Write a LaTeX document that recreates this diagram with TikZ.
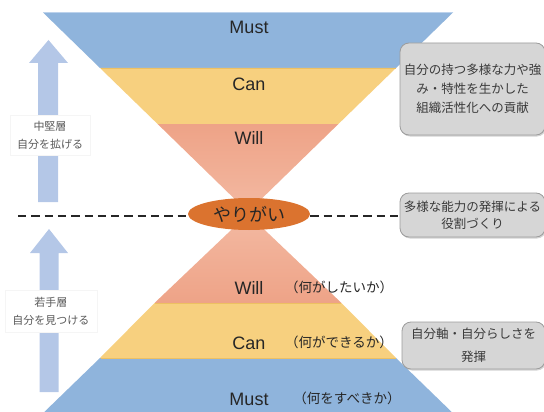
\documentclass[tikz,border=0pt]{standalone}
\usepackage{fontspec}
\setmainfont{Liberation Sans}
\newfontfamily\jp{Noto Sans CJK JP}
\usetikzlibrary{shapes.geometric,shadows}
\definecolor{mblue}{HTML}{8FB4DC}
\definecolor{mblueL}{HTML}{BCD2EC}
\definecolor{myellow}{HTML}{F7D07F}
\definecolor{myellowD}{HTML}{EDC062}
\definecolor{msalmon}{HTML}{EEA387}
\definecolor{msalmonL}{HTML}{F3B9A2}
\definecolor{arrowblue}{HTML}{B4C7E7}
\definecolor{boxfill}{HTML}{D6D6D6}
\definecolor{boxline}{HTML}{9C9C9C}
\definecolor{boxtext}{HTML}{3A3A3A}
\definecolor{darktext}{HTML}{262626}
\definecolor{labeltext}{HTML}{595959}
\definecolor{orD}{HTML}{DB732F}
\definecolor{orL}{HTML}{EE9A5C}
\tikzset{
  bandlabel/.style={font=\fontsize{18}{20}\selectfont, text=darktext, inner sep=0pt},
  jplabel/.style={font=\jp\fontsize{13.5}{16}\selectfont, text=darktext, inner sep=0pt},
  infobox/.style={draw=boxline, line width=0.8pt, fill=boxfill, rounded corners=9pt,
    text=boxtext, align=center, inner sep=0pt,
    drop shadow={shadow xshift=1pt, shadow yshift=-1.5pt, opacity=0.35}},
  sidelabel/.style={fill=white, draw=black!4, text=labeltext, align=center, inner sep=0pt,
    font=\jp\fontsize{11}{18}\selectfont},
  dashline/.style={draw=darktext, line width=2.7pt, dash pattern=on 8.3pt off 5pt},
  upperarrow/.style={fill=arrowblue}
}
\begin{document}
\begin{tikzpicture}[x=1pt,y=-1pt]
\useasboundingbox (0,0) rectangle (544,412);
% ---------- upper inverted triangle ----------
\fill[mblue] (43,12.5) -- (453,12.5) -- (396,68) -- (100,68) -- cycle;
\draw[mblueL, line width=1pt] (43.5,12.5) -- (452.5,12.5);
\fill[myellow] (100,68) -- (396,68) -- (338.4,124) -- (157.6,124) -- cycle;
\draw[myellowD, line width=0.8pt] (100.5,68.3) -- (395.5,68.3);
\shade[top color=msalmon, bottom color=msalmonL] (157.6,124) -- (338.4,124) -- (248,212) -- cycle;
% ---------- lower triangle ----------
\shade[top color=msalmonL, bottom color=msalmon] (248,214) -- (341.5,303) -- (154.5,303) -- cycle;
\fill[myellow] (154.5,303) -- (341.5,303) -- (396,358) -- (100,358) -- cycle;
\draw[myellowD, line width=0.8pt] (155,303.3) -- (341,303.3);
\fill[mblue] (100,358) -- (396,358) -- (460,420) -- (36,420) -- cycle;
\draw[myellowD, line width=0.6pt] (100.5,358.2) -- (395.5,358.2);
% ---------- band labels ----------
\node[bandlabel] (must1) at (249,27) {Must};
\node[bandlabel] (can1) at (249,84) {Can};
\node[bandlabel] (will1) at (249,138) {Will};
\node[bandlabel] (will2) at (249,288) {Will};
\node[bandlabel] (can2) at (249,343) {Can};
\node[bandlabel] (must2) at (249,399) {Must};
\node[jplabel] (q1) at (339,287) {（何がしたいか）};
\node[jplabel] (q2) at (339,342) {（何ができるか）};
\node[jplabel] (q3) at (347,398) {（何をすべきか）};
% ---------- right boxes ----------
\node[infobox, minimum width=145pt, minimum height=92pt, font=\jp\fontsize{12.5}{19}\selectfont]
  (b1) at (472.5,89) {自分の持つ多様な力や強\\み・特性を生かした\\組織活性化への貢献};
\node[infobox, minimum width=145pt, minimum height=44pt, font=\jp\fontsize{12.5}{17}\selectfont]
  (b2) at (472.5,215) {多様な能力の発揮による\\役割づくり};
\node[infobox, minimum width=143pt, minimum height=47pt, font=\jp\fontsize{12.5}{23}\selectfont]
  (b3) at (473.5,345.5) {自分軸・自分らしさを\\発揮};
% ---------- central ellipse and dashed line ----------
\node[ellipse, minimum width=122pt, minimum height=32pt, inner sep=0pt,
  top color=orD, middle color=orL, bottom color=orD, draw=none,
  font=\jp\fontsize{18}{20}\selectfont, text=darktext] (yr) at (249,214) {やりがい};
\coordinate (dl) at (18,216);
\draw[dashline] (dl) -- (yr.west |- dl);
\draw[dashline] (yr.east |- dl) -- (b2.west |- dl);
% ---------- left arrows ----------
\fill[upperarrow] (48.5,40) -- (68,63) -- (58,63) -- (58,202) -- (38,202) -- (38,63) -- (29,63) -- cycle;
\node[sidelabel, minimum width=80pt, minimum height=40pt] (l1) at (50,135) {中堅層\\自分を拡げる};
\fill[upperarrow] (49,229) -- (68,253) -- (58.5,253) -- (58.5,392) -- (39.5,392) -- (39.5,253) -- (30,253) -- cycle;
\node[sidelabel, minimum width=92pt, minimum height=42pt] (l2) at (51,311) {若手層\\自分を見つける};
\end{tikzpicture}
\end{document}
